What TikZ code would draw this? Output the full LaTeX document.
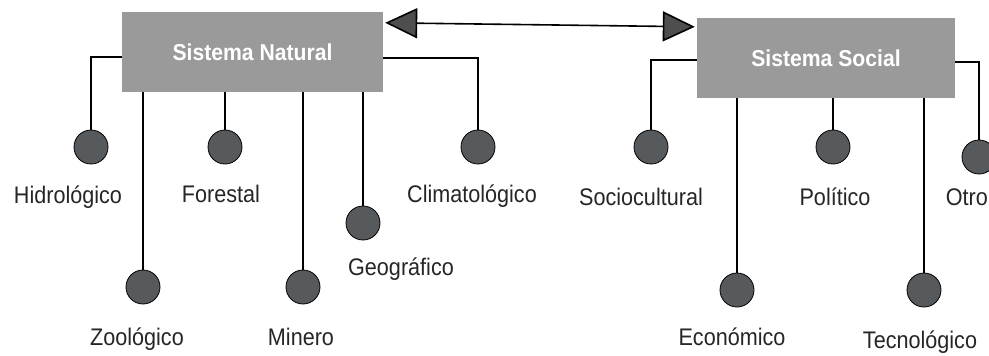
\documentclass[tikz,border=0pt]{standalone}
\usepackage{fontspec}
\setmainfont{Liberation Sans}
\usetikzlibrary{arrows.meta}
\definecolor{boxgray}{HTML}{9A9A9A}
\definecolor{dotgray}{HTML}{575A5C}
\definecolor{headgray}{HTML}{4E4E4E}
\begin{document}
\begin{tikzpicture}[x=1pt,y=-1pt,
  sysbox/.style={rectangle, fill=boxgray, draw=none},
  systext/.style={text=white, xscale=0.92, transform shape,
    font=\fontsize{23}{26}\selectfont\bfseries},
  dot/.style={circle, fill=dotgray, draw=black, line width=0.8pt,
    minimum size=34pt, inner sep=0pt},
  lbl/.style={anchor=base, xscale=0.9, transform shape,
    font=\fontsize{24}{28}\selectfont, text=black!85},
  link/.style={draw=black, line width=1.6pt},
  bothways/.style={draw=black, line width=1.6pt,
    {Triangle[length=32pt,width=30pt,fill=headgray]}-{Triangle[length=32pt,width=30pt,fill=headgray]}}
]
\useasboundingbox (0,0) rectangle (989,356);
\fill[white] (0,0) rectangle (989,356);

% the two systems
\node[sysbox, minimum width=261pt, minimum height=80pt] (nat) at (252.5,52) {};
\node[systext] (tnat) at (nat) {Sistema Natural};
\node[sysbox, minimum width=258pt, minimum height=80pt] (soc) at (826,58) {};
\node[systext] (tsoc) at (soc) {Sistema Social};

% components of the natural system
\node[dot] (hid) at (91,147) {};
\node[dot] (zoo) at (143,287) {};
\node[dot] (for) at (225,147) {};
\node[dot] (min) at (303,287) {};
\node[dot] (geo) at (363,223) {};
\node[dot] (cli) at (478,147) {};

% components of the social system
\node[dot] (scu) at (651,147) {};
\node[dot] (eco) at (737,290) {};
\node[dot] (pol) at (833,147) {};
\node[dot] (tec) at (924,290) {};
\node[dot] (otr) at (979,157) {};

% labels
\node[lbl] (lhid) at (68,203) {Hidrológico};
\node[lbl] (lfor) at (221,202) {Forestal};
\node[lbl] (lcli) at (472,202) {Climatológico};
\node[lbl] (lzoo) at (137,345) {Zoológico};
\node[lbl] (lmin) at (301,345) {Minero};
\node[lbl] (lgeo) at (401,275) {Geográfico};
\node[lbl] (lscu) at (641,205) {Sociocultural};
\node[lbl] (lpol) at (835,205) {Político};
\node[lbl] (leco) at (732,345) {Económico};
\node[lbl] (ltec) at (920,348) {Tecnológico};
\node[lbl, anchor=base east, inner xsep=1pt] (lotr) at (989,205) {Otro};

% connectors of the natural system
\draw[link] ([yshift=-5pt]nat.west) -| (hid.north);
\draw[link] (zoo |- nat.south) -- (zoo.north);
\draw[link] (for |- nat.south) -- (for.north);
\draw[link] (min |- nat.south) -- (min.north);
\draw[link] (geo |- nat.south) -- (geo.north);
\draw[link] ([yshift=-6pt]nat.east) -| (cli.north);

% connectors of the social system
\draw[link] ([yshift=-2pt]soc.west) -| (scu.north);
\draw[link] (eco |- soc.south) -- (eco.north);
\draw[link] (pol |- soc.south) -- (pol.north);
\draw[link] (tec |- soc.south) -- (tec.north);
\draw[link] ([yshift=-4pt]soc.east) -| (otr.north);

% mutual relation between the systems
\draw[bothways] ([shift={(2,11)}]nat.north east) -- ([shift={(-2,9)}]soc.north west);
\end{tikzpicture}
\end{document}
